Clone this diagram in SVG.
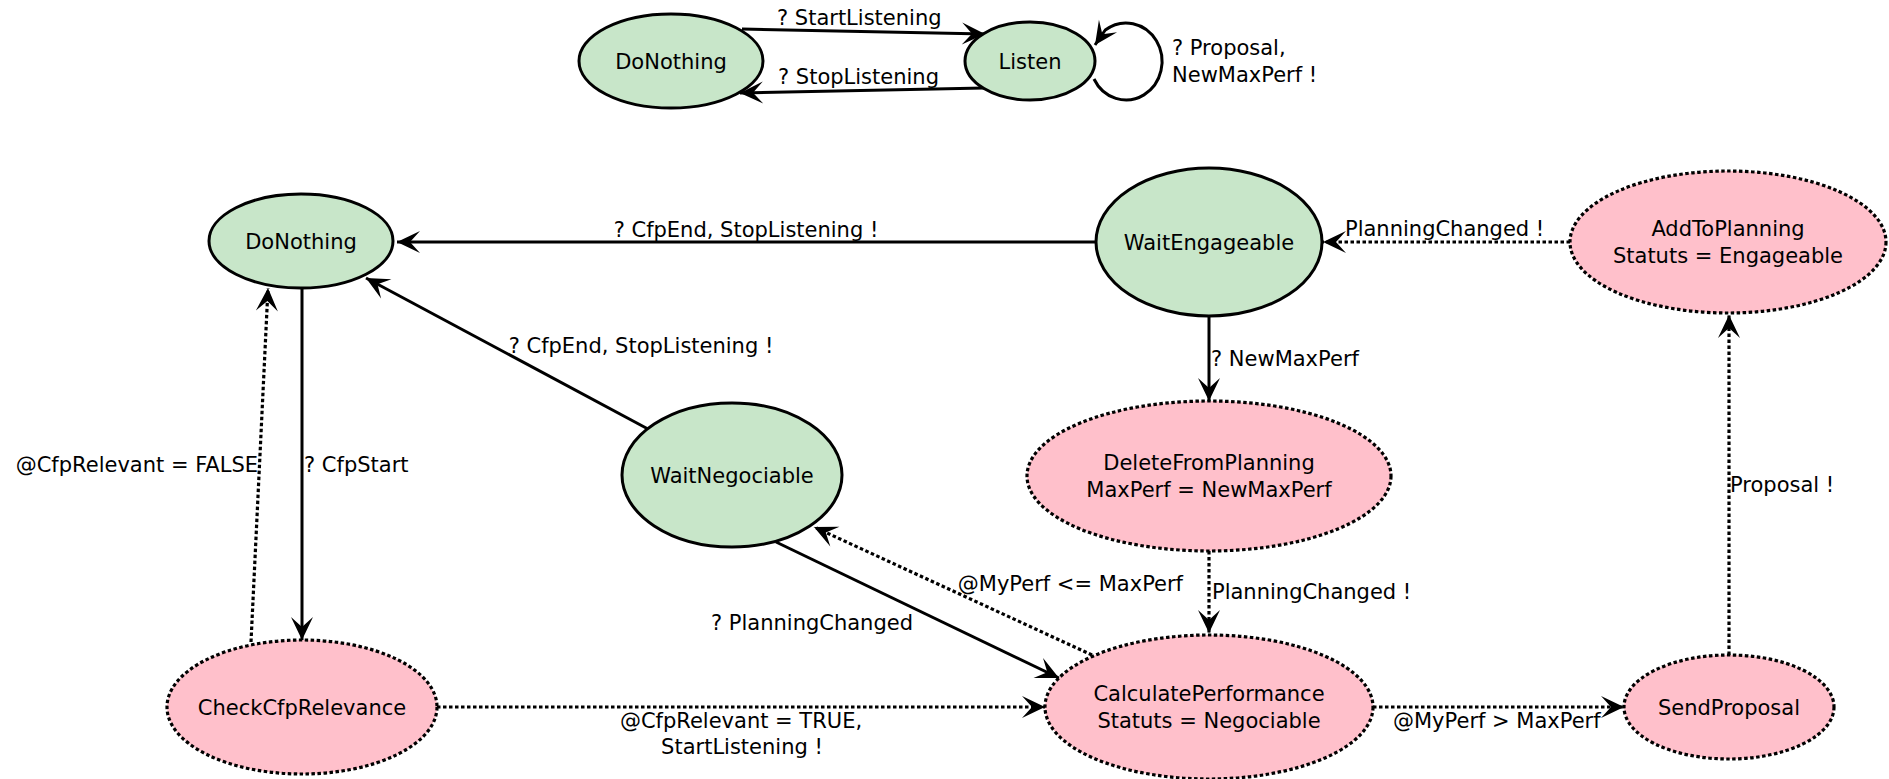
<svg xmlns="http://www.w3.org/2000/svg" width="1889" height="779" viewBox="0 0 1889 779">
  <style>
    text { font-family: "DejaVu Sans", "Liberation Sans", sans-serif; font-size: 21px; fill: #000; }
    .mid { text-anchor: middle; }
    .end { text-anchor: end; }
    .state { fill: #c8e6c9; stroke: #000; stroke-width: 3; }
    .action { fill: #ffc0cb; stroke: #000; stroke-width: 3.2; stroke-dasharray: 3.5 2.5; }
    .solid { fill: none; stroke: #000; stroke-width: 3; marker-end: url(#arrow); }
    .dotted { fill: none; stroke: #000; stroke-width: 3.2; stroke-dasharray: 3.5 2.5; marker-end: url(#arrow); }
  </style>
  <defs>
    <marker id="arrow" viewBox="-25 -13 27 26" refX="0" refY="0" markerWidth="27" markerHeight="26" markerUnits="userSpaceOnUse" orient="auto">
      <path d="M0,0 L-23,-11 L-13,0 L-23,11 Z" fill="#000"/>
    </marker>
  </defs>

  <rect width="1889" height="779" fill="#fff"/>

  <!-- transitions -->
  <g id="connectors">
    <!-- listener machine -->
    <path class="solid" d="M742,29 L985,34"/>
    <text x="777" y="25">? StartListening</text>
    <path class="solid" d="M984,88 L740,93"/>
    <text x="778" y="84">? StopListening</text>
    <path class="solid" d="M1094,79 A36,38.5 0 1 0 1105.3,30 L1095,45"/>
    <text x="1172" y="55">? Proposal,</text>
    <text x="1172" y="82">NewMaxPerf !</text>

    <!-- negotiation machine -->
    <path class="solid" d="M1096,242 L397,242"/>
    <text class="mid" x="746" y="237">? CfpEnd, StopListening !</text>

    <path class="solid" d="M648,429 L366,278"/>
    <text class="mid" x="641" y="353">? CfpEnd, StopListening !</text>

    <path class="solid" d="M302,288 L302,640"/>
    <text x="304" y="472">? CfpStart</text>

    <path class="dotted" d="M251,642 L268,288"/>
    <text class="end" x="258" y="472">@CfpRelevant = FALSE</text>

    <path class="dotted" d="M437,707 L1045,707"/>
    <text class="mid" x="741" y="728">@CfpRelevant = TRUE,</text>
    <text class="mid" x="742" y="754">StartListening !</text>

    <path class="solid" d="M776,542 L1059,678"/>
    <text class="mid" x="812" y="630">? PlanningChanged</text>

    <path class="dotted" d="M1092,655 L814,527"/>
    <text class="end" x="1183" y="591">@MyPerf &lt;= MaxPerf</text>

    <path class="solid" d="M1209,316 L1209,401"/>
    <text x="1211" y="366">? NewMaxPerf</text>

    <path class="dotted" d="M1209,551 L1209,633"/>
    <text x="1212" y="599">PlanningChanged !</text>

    <path class="dotted" d="M1373,707 L1624,707"/>
    <text x="1393" y="728">@MyPerf &gt; MaxPerf</text>

    <path class="dotted" d="M1729,655 L1729,315"/>
    <text x="1730" y="492">Proposal !</text>

    <path class="dotted" d="M1570,242 L1323,242"/>
    <text x="1345" y="236">PlanningChanged !</text>
  </g>

  <!-- listener states -->
  <g id="listenDoNothing">
    <ellipse class="state" cx="671" cy="61" rx="92" ry="47"/>
    <text class="mid" x="671" y="68.5">DoNothing</text>
  </g>
  <g id="listen">
    <ellipse class="state" cx="1030" cy="61" rx="65" ry="39"/>
    <text class="mid" x="1030" y="68.5">Listen</text>
  </g>

  <!-- negotiation states -->
  <g id="doNothing">
    <ellipse class="state" cx="301" cy="241" rx="92" ry="47"/>
    <text class="mid" x="301" y="248.5">DoNothing</text>
  </g>
  <g id="waitEngageable">
    <ellipse class="state" cx="1209" cy="242" rx="113" ry="74"/>
    <text class="mid" x="1209" y="249.5">WaitEngageable</text>
  </g>
  <g id="addToPlanning">
    <ellipse class="action" cx="1728" cy="242" rx="158" ry="71"/>
    <text class="mid" x="1728" y="235.5">AddToPlanning</text>
    <text class="mid" x="1728" y="262.5">Statuts = Engageable</text>
  </g>
  <g id="waitNegociable">
    <ellipse class="state" cx="732" cy="475" rx="110" ry="72"/>
    <text class="mid" x="732" y="482.5">WaitNegociable</text>
  </g>
  <g id="deleteFromPlanning">
    <ellipse class="action" cx="1209" cy="476" rx="182" ry="75"/>
    <text class="mid" x="1209" y="469.5">DeleteFromPlanning</text>
    <text class="mid" x="1209" y="496.5">MaxPerf = NewMaxPerf</text>
  </g>
  <g id="checkCfpRelevance">
    <ellipse class="action" cx="302" cy="707" rx="135" ry="67"/>
    <text class="mid" x="302" y="714.5">CheckCfpRelevance</text>
  </g>
  <g id="calculatePerformance">
    <ellipse class="action" cx="1209" cy="707" rx="164" ry="72"/>
    <text class="mid" x="1209" y="700.5">CalculatePerformance</text>
    <text class="mid" x="1209" y="727.5">Statuts = Negociable</text>
  </g>
  <g id="sendProposal">
    <ellipse class="action" cx="1729" cy="707" rx="105" ry="52"/>
    <text class="mid" x="1729" y="714.5">SendProposal</text>
  </g>
</svg>
